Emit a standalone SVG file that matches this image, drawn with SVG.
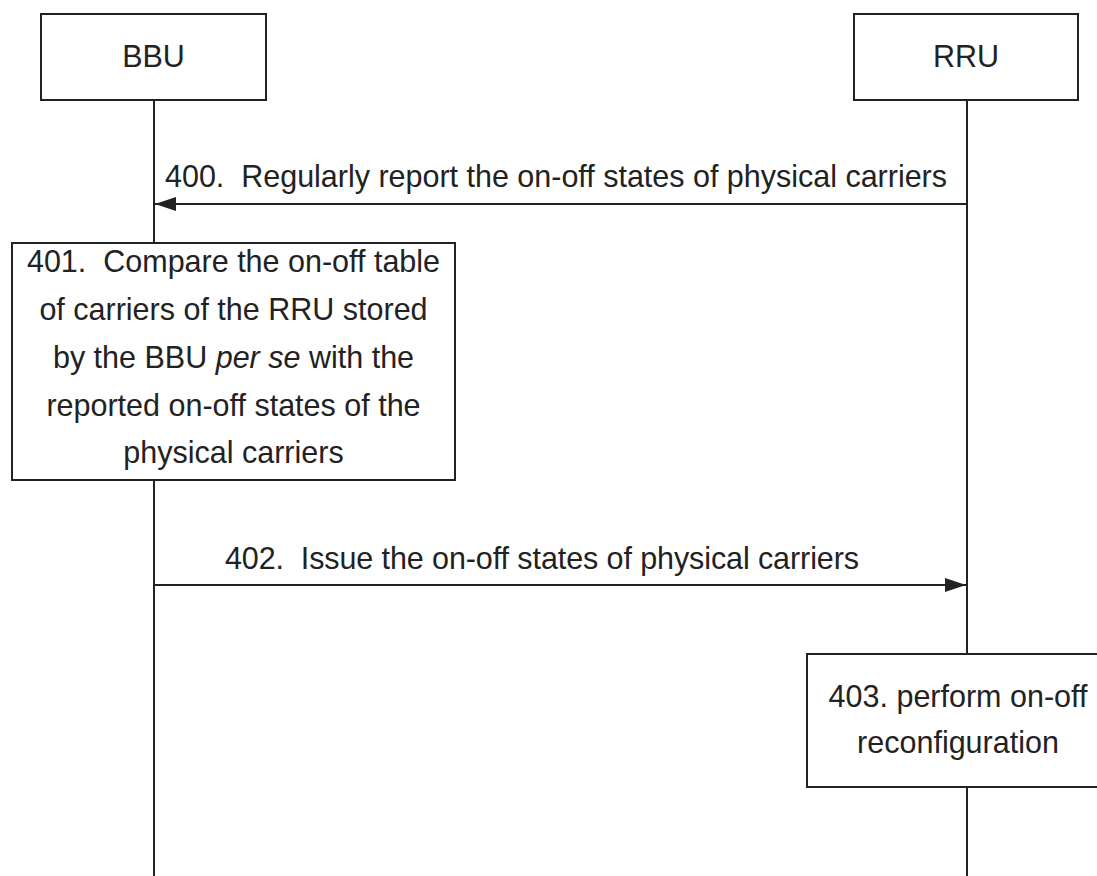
<svg xmlns="http://www.w3.org/2000/svg" width="1097" height="876" viewBox="0 0 1097 876">
<style>
.box{fill:#fff;stroke:#222;stroke-width:2}
.ln{stroke:#222;stroke-width:2;fill:none}
text{font-family:"Liberation Sans",Arial,sans-serif;font-size:30.5px;fill:#222}
.c{text-anchor:middle}
</style>
<defs>
<marker id="ah" markerWidth="22" markerHeight="16" refX="21" refY="8" orient="auto" markerUnits="userSpaceOnUse">
<path d="M0,1 L21,8 L0,15 Z" fill="#222"/>
</marker>
</defs>
<rect width="1097" height="876" fill="#fff"/>
<g id="lifelines">
<line class="ln" x1="154" y1="100" x2="154" y2="876"/>
<line class="ln" x1="967" y1="100" x2="967" y2="876"/>
</g>
<g id="bbu">
<rect class="box" x="41" y="14" width="225" height="86"/>
<text class="c" x="153.5" y="67">BBU</text>
</g>
<g id="rru">
<rect class="box" x="854" y="14" width="224" height="86"/>
<text class="c" x="966" y="67">RRU</text>
</g>
<g id="connectors">
<line class="ln" x1="967" y1="204" x2="155" y2="204" marker-end="url(#ah)"/>
<text x="165" y="187" xml:space="preserve" textLength="782">400.  Regularly report the on-off states of physical carriers</text>
<line class="ln" x1="154" y1="585" x2="966" y2="585" marker-end="url(#ah)"/>
<text x="225" y="569" xml:space="preserve" textLength="634">402.  Issue the on-off states of physical carriers</text>
</g>
<g id="step401">
<rect class="box" x="12" y="243" width="443" height="237"/>
<text class="c" x="233.5" y="272" xml:space="preserve">401.  Compare the on-off table</text>
<text class="c" x="233.5" y="320">of carriers of the RRU stored</text>
<text class="c" x="233.5" y="368">by the BBU <tspan font-style="italic">per se</tspan> with the</text>
<text class="c" x="233.5" y="416">reported on-off states of the</text>
<text class="c" x="233.5" y="463">physical carriers</text>
</g>
<g id="step403">
<rect class="box" x="807" y="654" width="302" height="133"/>
<text class="c" x="958" y="707">403. perform on-off</text>
<text class="c" x="958" y="753">reconfiguration</text>
</g>
</svg>
